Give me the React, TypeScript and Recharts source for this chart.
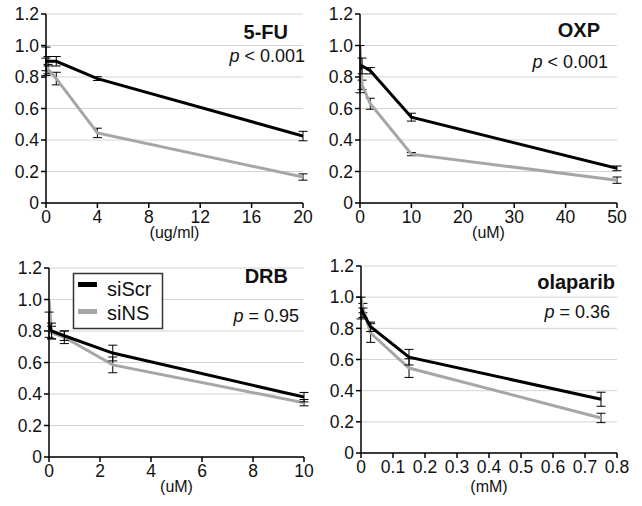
import { LineChart, Line, XAxis, YAxis, CartesianGrid, ErrorBar } from 'recharts';

type Pt = { x: number; y: number; err: number };

// 5-FU (ug/ml)
const fuScr: Pt[] = [
  { x: 0, y: 0.9, err: 0.09 },
  { x: 0.16, y: 0.9, err: 0.03 },
  { x: 0.8, y: 0.9, err: 0.03 },
  { x: 4, y: 0.79, err: 0.012 },
  { x: 20, y: 0.425, err: 0.03 },
];
const fuNS: Pt[] = [
  { x: 0, y: 0.88, err: 0.04 },
  { x: 0.16, y: 0.85, err: 0.03 },
  { x: 0.8, y: 0.79, err: 0.04 },
  { x: 4, y: 0.445, err: 0.03 },
  { x: 20, y: 0.165, err: 0.02 },
];

// OXP (uM)
const oxpScr: Pt[] = [
  { x: 0, y: 0.85, err: 0.15 },
  { x: 0.4, y: 0.87, err: 0.05 },
  { x: 2, y: 0.84, err: 0.02 },
  { x: 10, y: 0.545, err: 0.025 },
  { x: 50, y: 0.22, err: 0.015 },
];
const oxpNS: Pt[] = [
  { x: 0, y: 1.0, err: 0 },
  { x: 0.4, y: 0.75, err: 0.03 },
  { x: 2, y: 0.63, err: 0.035 },
  { x: 10, y: 0.31, err: 0.01 },
  { x: 50, y: 0.145, err: 0.02 },
];

// DRB (uM)
const drbScr: Pt[] = [
  { x: 0, y: 0.84, err: 0.08 },
  { x: 0.1, y: 0.8, err: 0.05 },
  { x: 0.6, y: 0.77, err: 0.03 },
  { x: 2.5, y: 0.66, err: 0.05 },
  { x: 10, y: 0.38, err: 0.03 },
];
const drbNS: Pt[] = [
  { x: 0, y: 1.0, err: 0 },
  { x: 0.1, y: 0.79, err: 0.04 },
  { x: 0.6, y: 0.76, err: 0.04 },
  { x: 2.5, y: 0.585, err: 0.05 },
  { x: 10, y: 0.345, err: 0.02 },
];

// olaparib (mM)
const olaScr: Pt[] = [
  { x: 0, y: 0.93, err: 0.07 },
  { x: 0.006, y: 0.9, err: 0.03 },
  { x: 0.03, y: 0.81, err: 0.03 },
  { x: 0.15, y: 0.615, err: 0.05 },
  { x: 0.75, y: 0.345, err: 0.045 },
];
const olaNS: Pt[] = [
  { x: 0, y: 1.0, err: 0 },
  { x: 0.006, y: 0.93, err: 0.03 },
  { x: 0.03, y: 0.77, err: 0.06 },
  { x: 0.15, y: 0.545, err: 0.06 },
  { x: 0.75, y: 0.225, err: 0.03 },
];

const yTicks = [0, 0.2, 0.4, 0.6, 0.8, 1.0, 1.2];
const fuTicks = [0, 4, 8, 12, 16, 20];
const oxpTicks = [0, 10, 20, 30, 40, 50];
const drbTicks = [0, 2, 4, 6, 8, 10];
const olaTicks = [0, 0.1, 0.2, 0.3, 0.4, 0.5, 0.6, 0.7, 0.8];

const FONT = '"Liberation Sans", Arial, sans-serif';
const GRAY = '#a6a6a6';
const tickStyle = { fill: '#111', fontSize: 17.5, fontFamily: FONT };

interface PanelProps {
  left: number;
  top: number;
  width: number;
  height: number;
  margin: { top: number; right: number; left: number; bottom: number };
  yWidth: number;
  xHeight: number;
  xMax: number;
  xTicks: number[];
  xLabel: string;
  scr: Pt[];
  ns: Pt[];
}

function Panel(p: PanelProps) {
  return (
    <div style={{ position: 'absolute', left: p.left, top: p.top }}>
      <LineChart width={p.width} height={p.height} margin={p.margin}>
        <CartesianGrid vertical={false} stroke="#d4d4d4" strokeWidth={1} />
        <XAxis
          type="number"
          dataKey="x"
          domain={[0, p.xMax]}
          ticks={p.xTicks}
          height={p.xHeight}
          tick={tickStyle}
          tickSize={5}
          tickMargin={3}
          stroke="#000"
          strokeWidth={1.5}
          allowDataOverflow
          label={{ value: p.xLabel, position: 'insideBottom', offset: 1, style: { fill: '#111', fontSize: 16, fontFamily: FONT } }}
        />
        <YAxis
          type="number"
          domain={[0, 1.2]}
          ticks={yTicks}
          width={p.yWidth}
          tick={tickStyle}
          tickSize={5}
          tickMargin={2}
          stroke="#000"
          strokeWidth={1.5}
          tickFormatter={(v: number) => (v === 0 ? '0' : v.toFixed(1))}
        />
        <Line data={p.ns} dataKey="y" stroke={GRAY} strokeWidth={3} dot={false} isAnimationActive={false}>
          <ErrorBar dataKey="err" width={4.5} stroke="#000" strokeWidth={1} direction="y" isAnimationActive={false} />
        </Line>
        <Line data={p.scr} dataKey="y" stroke="#000" strokeWidth={3} dot={false} isAnimationActive={false}>
          <ErrorBar dataKey="err" width={4.5} stroke="#000" strokeWidth={1} direction="y" isAnimationActive={false} />
        </Line>
      </LineChart>
    </div>
  );
}

function PText({ x, y, op }: { x: number; y: number; op: string }) {
  return (
    <text x={x} y={y} textAnchor="end" fontSize={18} fontFamily={FONT} fill="#111">
      <tspan fontStyle="italic">p</tspan>
      <tspan>{` ${op}`}</tspan>
    </text>
  );
}

export default function App() {
  return (
    <div style={{ position: 'absolute', left: 0, top: 0, width: 642, height: 506, background: '#fff' }}>
      <Panel left={0} top={0} width={320} height={250} margin={{ top: 14, right: 17, left: 6, bottom: 11 }}
        yWidth={40} xHeight={36} xMax={20} xTicks={fuTicks} xLabel="(ug/ml)" scr={fuScr} ns={fuNS} />
      <Panel left={320} top={0} width={322} height={250} margin={{ top: 14, right: 25, left: 6, bottom: 11 }}
        yWidth={34} xHeight={36} xMax={50} xTicks={oxpTicks} xLabel="(uM)" scr={oxpScr} ns={oxpNS} />
      <Panel left={0} top={250} width={320} height={256} margin={{ top: 18, right: 16, left: 9, bottom: 13 }}
        yWidth={40} xHeight={36} xMax={10} xTicks={drbTicks} xLabel="(uM)" scr={drbScr} ns={drbNS} />
      <Panel left={320} top={250} width={322} height={256} margin={{ top: 16, right: 25, left: 6, bottom: 13 }}
        yWidth={35} xHeight={40} xMax={0.8} xTicks={olaTicks} xLabel="(mM)" scr={olaScr} ns={olaNS} />

      <svg width={642} height={506} style={{ position: 'absolute', left: 0, top: 0, pointerEvents: 'none' }}>
        <g fontFamily={FONT} fontWeight="bold" fontSize={20} fill="#111" textAnchor="end">
          <text x={288} y={39}>5-FU</text>
          <text x={600} y={37}>OXP</text>
          <text x={288} y={283}>DRB</text>
          <text x={615} y={289}>olaparib</text>
        </g>
        <PText x={305} y={62} op="< 0.001" />
        <PText x={608} y={68} op="< 0.001" />
        <PText x={299} y={322} op="= 0.95" />
        <PText x={610} y={318} op="= 0.36" />

        <rect x={73.5} y={273.5} width={89} height={55} fill="#fff" stroke="#333" strokeWidth={1.5} />
        <rect x={78} y={282} width={19} height={5} fill="#000" />
        <rect x={78} y={309} width={19} height={5} fill={GRAY} />
        <text x={107} y={296} fontSize={20} fontFamily={FONT} fill="#111">siScr</text>
        <text x={107} y={320} fontSize={20} fontFamily={FONT} fill="#111">siNS</text>
      </svg>
    </div>
  );
}
